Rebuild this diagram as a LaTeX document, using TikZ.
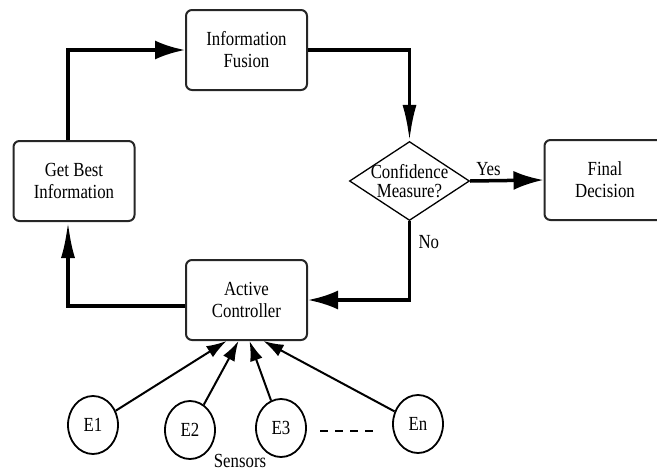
\documentclass[tikz,border=0pt]{standalone}
\usepackage{fontspec}
\setmainfont{Liberation Serif}[FakeStretch=0.84]
\usepackage{tikz}
\usetikzlibrary{shapes.geometric, arrows.meta}
\newcommand{\flowfont}{\fontsize{20}{22}\selectfont}
\tikzset{
box/.style={draw=black!85, line width=2pt, rounded corners=6pt, minimum width=121pt, minimum height=80pt, inner sep=0pt, align=center, font=\flowfont}, % the rounded process boxes
decision/.style={diamond, aspect=1.5, draw, line width=1.3pt, minimum width=120pt, minimum height=79pt, inner sep=-5pt, align=center, font=\fontsize{20}{18.5}\selectfont}, % the question box, text may run over its edges
sensor/.style={ellipse, draw, line width=1.8pt, minimum width=50pt, minimum height=58pt, inner sep=0pt, font=\flowfont}, % one sensor
flowh/.style={line width=3.5pt, -{Latex[length=30pt,width=19pt]}}, % thick loop edge ending left/right
flowv/.style={line width=3.5pt, -{Latex[length=36pt,width=14pt]}}, % thick loop edge ending up/down
feed/.style={line width=2pt, -{Latex[length=20pt,width=13pt]}}, % sensor to controller
}

\begin{document}
\begin{tikzpicture}[x=1pt, y=-1pt]
        \useasboundingbox (0,0) rectangle (657,472);
        %% the loop
        \node[box] (fusion) at (246.5,50) {Information\\Fusion};
        \node[box] (getbest) at (74,181) {Get Best\\Information};
        \node[box] (control) at (246.5,300) {Active\\Controller};
        \node[box] (final) at (605,180) {Final\\Decision};
        \node[decision] (conf) at (409.5,181) {Confidence\\Measure?};

        \draw[flowh] ([xshift=-6pt]getbest.north) |- (fusion.west);
        \draw[flowv] (fusion.east) -| (conf.north);
        \draw[flowh] (conf.east) -- node[above, font=\flowfont, pos=0.25] {Yes} (final.west);
        \draw[flowh] (conf.south) |- node[pos=0.13, right=4pt, font=\flowfont] {No} (control.east);
        \draw[flowv] ([yshift=-6pt]control.west) -| ([xshift=-6pt]getbest.south);

        %% sensors
        \node[sensor] (e1) at (93,425) {E1};
        \node[sensor] (e2) at (190,430) {E2};
        \node[sensor] (e3) at (281,428) {E3};
        \node[sensor] (en) at (418,424) {En};
        \node[font=\flowfont, inner sep=1pt] (sensors) at (240,461) {Sensors};

        \draw[feed] (e1) -- ([xshift=-20pt]control.south);
        \draw[feed] (e2) -- ([xshift=-8pt]control.south);
        \draw[feed] (e3) -- ([xshift=3pt]control.south);
        \draw[feed] (en) -- ([xshift=17pt]control.south);
        \draw[line width=2.2pt, dash pattern=on 8pt off 7pt] (320,431) -- (373,431);
    \end{tikzpicture}
\end{document}
